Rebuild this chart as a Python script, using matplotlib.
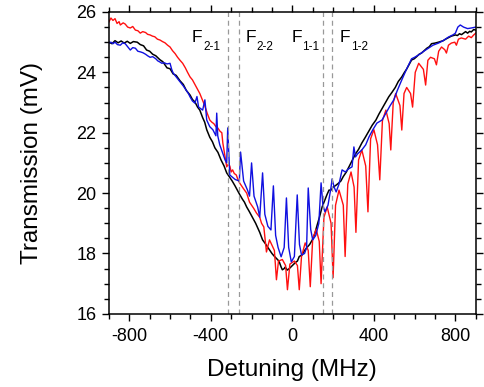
import numpy as np
import matplotlib
matplotlib.use("Agg")
import matplotlib.pyplot as plt
from matplotlib.ticker import MultipleLocator

plt.rcParams['font.family'] = ['Liberation Sans', 'DejaVu Sans']
plt.rcParams['axes.unicode_minus'] = False

# black trace (no pump)
black_x = [-900, -885, -870, -855, -840, -825, -810, -795, -780, -761, -746, -730, -715, -700,
           -685, -670, -650, -635, -615, -600, -585, -570, -551, -535, -520, -502, -490, -478,
           -465, -454, -440, -430, -420, -405, -392, -380, -365, -350, -335, -322, -310, -295,
           -282, -270, -258, -245, -235, -224, -212, -200, -190, -180, -170, -160, -146, -135,
           -120, -110, -100, -90, -80, -70, -63, -55, -49, -40, -35, -25, -15, 0, 15, 25, 34,
           48, 60, 72, 85, 98, 110, 120, 133, 146, 158, 170, 180, 190, 200, 212, 225, 238, 250,
           265, 278, 295, 310, 325, 341, 358, 375, 392, 410, 425, 440, 457, 473, 490, 505, 520,
           537, 550, 560, 572, 585, 598, 610, 622, 634, 647, 660, 672, 683, 700, 717, 730, 740,
           752, 766, 780, 800, 810, 820, 830, 840, 850, 860, 870, 878, 890, 900]
black_y = [25.0, 24.95, 25.05, 24.98, 25.04, 24.97, 25.03, 24.96, 25.02, 25.0, 24.92, 24.88, 24.74, 24.7,
           24.6, 24.55, 24.42, 24.35, 24.15, 24.12, 23.95, 23.9, 23.72, 23.6, 23.4, 23.25, 23.1, 23.02,
           22.85, 22.75, 22.5, 22.35, 22.1, 21.85, 21.7, 21.5, 21.35, 21.1, 20.9, 20.67, 20.55, 20.4,
           20.25, 20.1, 19.95, 19.8, 19.7, 19.54, 19.4, 19.25, 19.12, 19.0, 18.85, 18.7, 18.45, 18.35,
           18.2, 18.1, 18.0, 17.92, 17.85, 17.78, 17.7, 17.55, 17.46, 17.5, 17.55, 17.45, 17.5, 17.6, 17.7, 17.75, 17.9,
           17.95, 18.1, 18.2, 18.3, 18.45, 18.65, 18.9, 19.2, 19.54, 19.75, 19.95, 20.1, 20.1, 20.2, 20.25, 20.32, 20.4, 20.55,
           20.7, 20.87, 21.1, 21.3, 21.45, 21.66, 21.85, 22.05, 22.25, 22.42, 22.62, 22.8, 23.0, 23.19, 23.35, 23.5, 23.7,
           23.85, 24.0, 24.1, 24.25, 24.41, 24.45, 24.52, 24.6, 24.64, 24.72, 24.8, 24.85, 24.95, 24.97, 25.0, 25.03, 25.05,
           25.1, 25.15, 25.2, 25.24, 25.22, 25.28, 25.25, 25.3, 25.35, 25.3, 25.36, 25.34, 25.42, 25.4]

# red trace
red_x = [-900, -890, -880, -870, -860, -850, -844, -830, -820, -808, -795, -783, -770, -758,
         -746, -734, -720, -710, -698, -686, -675, -662, -649, -637, -625, -612, -600, -588,
         -575, -563, -551, -538, -525, -514, -502, -490, -478, -466, -454, -442, -430, -418,
         -405, -395, -385, -375, -366, -355, -346, -341, -330, -322, -315, -307, -300, -293,
         -285, -275, -267, -259, -240, -224, -210, -190, -176, -160, -151, -140, -127, -112,
         -95, -88, -78, -68, -49, -33, -24, -12, 10, 25, 34, 45, 63, 78, 88, 100, 117, 132,
         141, 155, 171, 190, 200, 212, 229, 250, 259, 272, 288, 303, 312, 325, 341, 360, 371,
         384, 400, 418, 429, 442, 459, 475, 483, 495, 507, 528, 537, 548, 561, 580, 590, 603,
         620, 643, 654, 665, 678, 697, 707, 718, 732, 748, 756, 766, 780, 797, 805, 815, 829,
         850, 865, 878, 890, 900]
red_y = [25.67, 25.8, 25.72, 25.78, 25.62, 25.68, 25.57, 25.64, 25.6, 25.5, 25.47, 25.52, 25.4, 25.38,
         25.3, 25.35, 25.32, 25.26, 25.24, 25.2, 25.18, 25.1, 25.07, 25.02, 24.98, 24.9, 24.84, 24.72,
         24.62, 24.5, 24.4, 24.3, 24.15, 24.0, 23.85, 23.75, 23.6, 23.45, 23.3, 23.1, 22.9, 22.65,
         22.42, 22.35, 22.3, 22.2, 22.16, 22.05, 22.0, 21.66, 21.2, 20.87, 20.95, 20.9, 20.7, 20.77,
         20.65, 20.6, 20.45, 20.34, 20.15, 20.0, 19.7, 19.5, 19.34, 19.2, 19.0, 18.88, 18.05, 18.45,
         18.2, 18.1, 17.13, 17.75, 17.8, 17.6, 16.8, 17.65, 17.75, 17.6, 16.8, 17.9, 18.35, 18.1, 16.9, 18.5, 18.8, 18.4,
         17.0, 19.2, 19.54, 19.0, 17.2, 19.6, 20.1, 19.6, 17.9, 20.3, 20.7, 20.2, 18.7, 21.1, 21.43, 20.9, 19.38,
         21.8, 22.1, 21.6, 20.44, 22.4, 22.75, 22.3, 21.43, 23.0, 23.3, 22.9, 22.09, 23.3, 23.5, 23.3, 22.85, 24.0,
         24.3, 24.1, 23.58, 24.4, 24.5, 24.45, 24.25, 24.7, 24.84, 24.75, 24.64, 24.9, 24.97, 25.0, 24.9, 25.1, 25.14,
         25.1, 25.2, 25.15, 25.24, 25.3]

# blue trace
blue_x = [-900, -890, -880, -870, -858, -844, -832, -820, -808, -795, -783, -770, -758, -746,
          -733, -720, -710, -698, -685, -670, -660, -649, -640, -630, -615, -600, -592, -585,
          -570, -551, -535, -520, -510, -502, -490, -478, -468, -460, -440, -429, -420, -405,
          -390, -375, -371, -366, -356, -330, -322, -317, -307, -280, -260, -254, -239, -220,
          -210, -200, -188, -170, -160, -146, -135, -120, -105, -93, -82, -70, -55, -40, -29,
          -18, -5, 10, 24, 35, 45, 60, 70, 78, 90, 100, 115, 130, 141, 150, 160, 175, 190, 195,
          205, 215, 229, 244, 260, 275, 293, 302, 310, 320, 341, 360, 376, 395, 415, 440, 459,
          480, 498, 515, 537, 560, 585, 600, 620, 645, 668, 690, 717, 740, 766, 790, 800, 812,
          824, 840, 860, 878, 900]
blue_y = [24.97, 25.0, 24.95, 25.0, 24.92, 24.9, 24.98, 24.95, 24.85, 24.74, 24.82, 24.8, 24.7, 24.68,
          24.65, 24.6, 24.55, 24.5, 24.52, 24.45, 24.38, 24.34, 24.3, 24.32, 24.28, 24.3, 24.1, 23.98,
          23.85, 23.68, 23.55, 23.4, 23.3, 23.19, 23.05, 22.98, 23.2, 22.85, 22.75, 23.09, 22.42, 22.2,
          22.1, 21.9, 22.65, 21.9, 21.6, 21.1, 21.0, 22.16, 20.6, 20.45, 20.4, 21.36, 20.4, 20.1,
          19.9, 21.0, 19.9, 19.54, 19.2, 20.67, 19.3, 18.9, 18.78, 20.24, 18.6, 18.2, 17.89, 18.2, 19.84,
          18.2, 17.72, 17.9, 19.94, 18.3, 17.95, 18.0, 18.2, 20.17, 18.8, 18.45, 18.6, 19.0, 20.34, 19.6,
          19.38, 19.6, 20.2, 20.47, 20.2, 20.04, 20.3, 20.77, 20.7, 20.8, 20.87, 21.53, 21.2, 21.3, 21.43,
          21.6, 21.86, 22.1, 22.32, 22.42, 22.65, 22.9, 23.09, 23.4, 23.75, 24.1, 24.45, 24.5, 24.58,
          24.7, 24.8, 24.9, 24.97, 25.05, 25.17, 25.25, 25.3, 25.5, 25.57, 25.5, 25.45, 25.47, 25.5]

# hyperfine transition markers
line_x = [-316, -264, 148, 196]
label_x = [-493, -229, -5, 234]
label_sub = ['2-1', '2-2', '1-1', '1-2']

fig = plt.figure(figsize=(4.84, 3.87), dpi=100)
ax = fig.add_axes([0.225, 0.189, 0.758, 0.78])

ax.plot(black_x, black_y, color='black', lw=1.1)
ax.plot(red_x, red_y, color='#ff1010', lw=1.0)
ax.plot(blue_x, blue_y, color='#1010e0', lw=1.0)

for lx in line_x:
    ax.axvline(lx, color='#999999', lw=0.9, ls=(0, (4, 3)))

for lx, sub in zip(label_x, label_sub):
    ax.text(lx, 25.0, 'F', fontsize=12.5, ha='left', va='baseline')
    ax.annotate(sub, (lx, 25.0), xytext=(8, -5.5), textcoords='offset points',
                fontsize=8.5, ha='left', va='baseline')

ax.set_xlim(-900, 900)
ax.set_ylim(16, 26)
ax.xaxis.set_major_locator(MultipleLocator(400))
ax.xaxis.set_minor_locator(MultipleLocator(100))
ax.yaxis.set_major_locator(MultipleLocator(2))
ax.yaxis.set_minor_locator(MultipleLocator(0.5))
ax.tick_params(which='both', direction='out', top=True, right=True, width=1, labelsize=13)
ax.tick_params(which='major', length=5)
ax.tick_params(which='minor', length=3.3)
ax.tick_params(axis='x', which='major', pad=5)
ax.tick_params(axis='y', which='major', pad=4)
for sp in ax.spines.values():
    sp.set_linewidth(1.1)

ax.set_xlabel('Detuning (MHz)', fontsize=17.5, labelpad=10)
ax.set_ylabel('Transmission (mV)', fontsize=17.5, labelpad=24)

fig.savefig('out.png', dpi=100)
